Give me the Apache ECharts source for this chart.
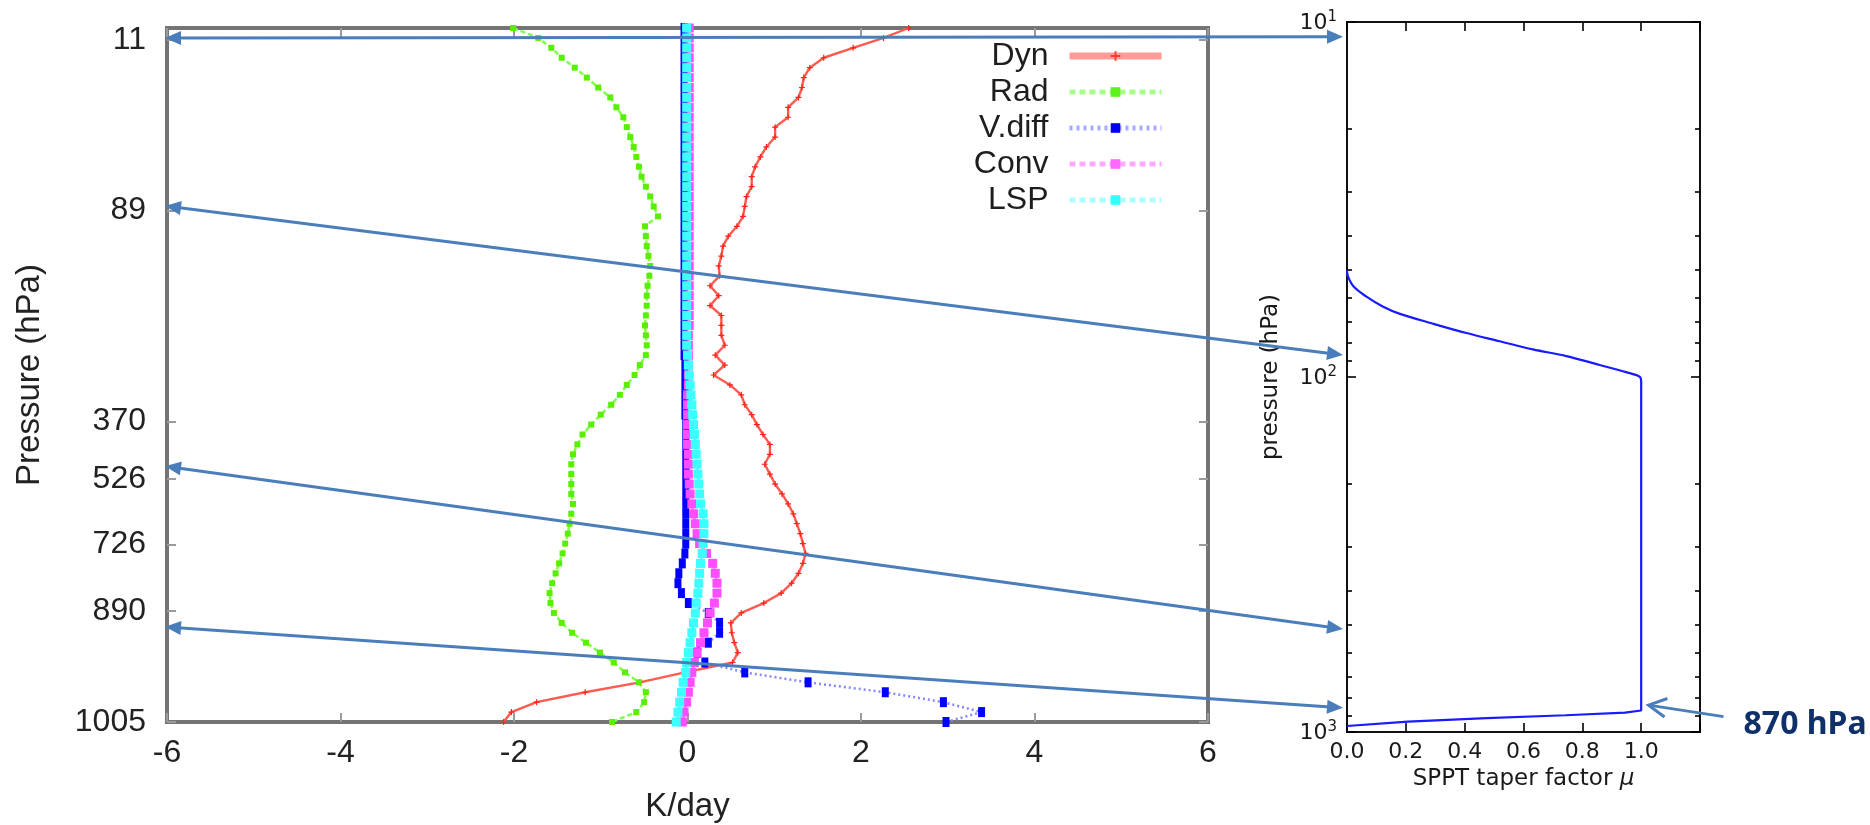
<!DOCTYPE html>
<html>
<head>
<meta charset="utf-8">
<title>Heating-rate profiles and SPPT taper</title>
<script src="https://cdn.jsdelivr.net/npm/echarts@6/dist/echarts.min.js"></script>
<style>
  html, body { margin: 0; padding: 0; background: #ffffff; }
  #wrap { position: relative; width: 1870px; height: 825px; overflow: hidden; }
  #profiles, #taper { position: absolute; left: 0; top: 0; width: 1870px; height: 825px; }
  #profiles { filter: blur(0.5px); }
</style>
</head>
<body>
<div id="wrap">
  <div id="profiles"></div>
  <div id="taper"></div>
</div>
<script>
// ---- Temperature tendencies (K/day) on model levels, level 0 = model top ----
const dyn = [
  2.55, 2.26, 1.91, 1.57, 1.41, 1.34, 1.32, 1.28, 1.16, 1.16,
  1.01, 1.01, 0.91, 0.84, 0.78, 0.74, 0.74, 0.68, 0.66, 0.64,
  0.57, 0.47, 0.41, 0.39, 0.36, 0.37, 0.26, 0.36, 0.26, 0.39,
  0.39, 0.39, 0.43, 0.32, 0.43, 0.30, 0.49, 0.62, 0.66, 0.74,
  0.80, 0.87, 0.95, 0.95, 0.89, 0.95, 1.01, 1.09, 1.16, 1.22,
  1.26, 1.30, 1.33, 1.36, 1.33, 1.28, 1.20, 1.08, 0.88, 0.62,
  0.50, 0.51, 0.54, 0.58, 0.52, -0.03, -0.55, -1.18, -1.74, -2.03,
  -2.12
];
const rad = [
  -2.01, -1.72, -1.57, -1.45, -1.30, -1.16, -1.03, -0.89, -0.82, -0.74,
  -0.70, -0.66, -0.62, -0.59, -0.56, -0.53, -0.48, -0.43, -0.39, -0.34,
  -0.49, -0.48, -0.47, -0.45, -0.43, -0.44, -0.46, -0.47, -0.47, -0.48,
  -0.49, -0.48, -0.47, -0.48, -0.55, -0.61, -0.70, -0.78, -0.88, -1.00,
  -1.11, -1.21, -1.27, -1.32, -1.34, -1.34, -1.34, -1.34, -1.32, -1.34,
  -1.36, -1.38, -1.41, -1.44, -1.48, -1.52, -1.56, -1.59, -1.58, -1.54,
  -1.45, -1.33, -1.17, -1.01, -0.85, -0.72, -0.56, -0.48, -0.50, -0.59,
  -0.87
];
const vdiff = [
  -0.04, -0.04, -0.04, -0.04, -0.04, -0.04, -0.04, -0.04, -0.04, -0.04,
  -0.04, -0.04, -0.04, -0.04, -0.04, -0.04, -0.04, -0.04, -0.04, -0.04,
  -0.04, -0.04, -0.04, -0.04, -0.04, -0.04, -0.04, -0.04, -0.04, -0.04,
  -0.04, -0.04, -0.04, -0.04, -0.03, -0.03, -0.03, -0.03, -0.03, -0.03,
  -0.02, -0.02, -0.02, -0.02, -0.02, -0.02, -0.02, -0.02, -0.02, -0.02,
  -0.02, -0.02, -0.02, -0.03, -0.06, -0.10, -0.11, -0.07, 0.01, 0.24,
  0.37, 0.37, 0.24, 0.11, 0.20, 0.66, 1.39, 2.28, 2.95, 3.39,
  2.98
];
const conv = [
  0.02, 0.02, 0.02, 0.02, 0.02, 0.02, 0.02, 0.02, 0.02, 0.02,
  0.02, 0.02, 0.02, 0.02, 0.02, 0.02, 0.02, 0.02, 0.02, 0.02,
  0.02, 0.02, 0.02, 0.02, 0.02, 0.02, 0.02, 0.02, 0.02, 0.02,
  0.02, 0.01, 0.01, 0.01, 0.01, 0.01, 0.01, 0.00, 0.00, 0.00,
  0.00, 0.00, 0.00, 0.01, 0.01, 0.01, 0.02, 0.03, 0.05, 0.07,
  0.09, 0.11, 0.14, 0.22, 0.29, 0.32, 0.34, 0.34, 0.31, 0.26,
  0.23, 0.19, 0.15, 0.11, 0.08, 0.05, 0.03, 0.01, -0.01, -0.04,
  -0.06
];
const lsp = [
  -0.01, -0.01, -0.01, -0.01, -0.01, -0.01, -0.01, -0.01, -0.01, -0.01,
  -0.01, -0.01, -0.01, -0.01, -0.01, -0.01, -0.01, -0.01, -0.01, -0.01,
  -0.01, -0.01, -0.01, -0.01, -0.01, -0.01, -0.01, -0.01, -0.01, -0.01,
  -0.01, -0.01, -0.01, 0.00, 0.01, 0.02, 0.03, 0.04, 0.05, 0.06,
  0.07, 0.08, 0.09, 0.10, 0.11, 0.12, 0.13, 0.14, 0.15, 0.18,
  0.19, 0.19, 0.18, 0.17, 0.15, 0.14, 0.13, 0.12, 0.10, 0.09,
  0.07, 0.05, 0.03, 0.01, -0.01, -0.02, -0.05, -0.07, -0.09, -0.11,
  -0.13
];

// Level-axis ticks (model-level coordinate) and the pressures they mark (hPa)
const levelTicks = [1.2, 18.4, 39.7, 45.5, 52.1, 58.8, 70];
const levelTickLabels = ['11', '89', '370', '526', '726', '890', '1005'];

// ---- SPPT taper function: pressure (hPa) and taper factor mu ----
// upper transition (stratosphere -> troposphere) ...
const taperUpperPressure = [50, 52, 55.4, 59.3, 63.4, 66.4, 70.8, 75.2, 79.3, 83.6,
  87.3, 92.5, 96.9, 99.8, 102.6];
const taperUpperMu = [0, 0.003, 0.021, 0.065, 0.123, 0.18, 0.293, 0.406, 0.519, 0.632,
  0.746, 0.859, 0.949, 0.995, 1.0];
// ... and the full-perturbation column down through the boundary-layer taper
const taperLowerPressure = [102.6, 870, 882, 897, 914, 935, 962];
const taperLowerMu = [1.0, 1.0, 0.945, 0.743, 0.475, 0.207, 0];
const pressureMinorTicks = [20, 30, 40, 50, 60, 70, 80, 90, 200, 300, 400, 500, 600, 700, 800, 900];

// ---- Connectors: level on the profile axis -> pressure on the taper axis ----
const linkLevel = [1.0, 17.95, 44.2, 60.4];
const linkPressure = [11.0, 86.7, 513, 855];
// Callout for the lower taper knee
const kneeLabel = '870 hPa';
const kneeArrowTip = [1.025, 840];
const kneeArrowTail = [1.28, 905];

const gnuFont = '"Liberation Sans", Arial, sans-serif';
const mplFont = '"DejaVu Sans", sans-serif';
const arrowColor = '#4a7ebb';

const plusSymbol = 'path://M4,0H6V4H10V6H6V10H4V6H0V4H4Z';

function profile(values) {
  return values.map((v, i) => [v, i]);
}
function levelLabel(v) {
  const i = levelTicks.findIndex(t => Math.abs(t - v) < 1e-6);
  return i >= 0 ? levelTickLabels[i] : '';
}
const hiddenLine = { show: false, onZero: false };

// ================= left panel: tendency profiles =================
const profilesChart = echarts.init(document.getElementById('profiles'));
function gnuTick(extra) {
  return Object.assign({ show: true, inside: true, length: 9, lineStyle: { color: '#9a9a9a', width: 2 } }, extra || {});
}
profilesChart.setOption({
  animation: false,
  grid: {
    left: 167, top: 28, width: 1041, height: 694, outerBoundsMode: 'none', containLabel: false,
    show: true, borderColor: '#747474', borderWidth: 4, backgroundColor: 'transparent'
  },
  xAxis: [{
    type: 'value', min: -6, max: 6, interval: 2, position: 'bottom',
    axisLine: hiddenLine, splitLine: { show: false },
    axisTick: gnuTick(),
    axisLabel: { margin: 15, fontSize: 32, lineHeight: 32, fontFamily: gnuFont, color: '#222' },
    name: 'K/day', nameLocation: 'middle', nameGap: 68,
    nameTextStyle: { fontSize: 33, lineHeight: 33, fontFamily: gnuFont, color: '#222' }
  }, {
    type: 'value', min: -6, max: 6, interval: 2, position: 'top',
    axisLine: hiddenLine, splitLine: { show: false },
    axisTick: gnuTick(), axisLabel: { show: false }
  }],
  yAxis: [{
    type: 'value', inverse: true, min: 0, max: 70, position: 'left',
    axisLine: hiddenLine, splitLine: { show: false },
    axisTick: gnuTick({ customValues: levelTicks }),
    axisLabel: {
      customValues: levelTicks, formatter: levelLabel, margin: 21,
      fontSize: 32, fontFamily: gnuFont, color: '#222'
    },
    name: 'Pressure (hPa)', nameLocation: 'middle', nameRotate: 90, nameGap: 121,
    nameTextStyle: { fontSize: 33, lineHeight: 33, fontFamily: gnuFont, color: '#222' }
  }, {
    type: 'value', inverse: true, min: 0, max: 70, position: 'right',
    axisLine: hiddenLine, splitLine: { show: false },
    axisTick: gnuTick({ customValues: levelTicks }),
    axisLabel: { show: false }
  }],
  legend: {
    orient: 'vertical', align: 'right',
    right: 705, top: 40, padding: 0,
    itemWidth: 92, itemHeight: 12, itemGap: 4,
    textStyle: { fontSize: 32, lineHeight: 30, fontFamily: gnuFont, color: '#1e1e1e', padding: [0, 16, 0, 0] },
    data: [
      { name: 'Dyn', lineStyle: { color: '#ff9a96', width: 7, type: 'solid' }, itemStyle: { color: '#ff3b30' } },
      { name: 'Rad', lineStyle: { color: '#a8ff8a', width: 5, type: [6, 4] }, itemStyle: { color: '#5cf21a' } },
      { name: 'V.diff', lineStyle: { color: '#a9a9ff', width: 5, type: [3, 4] }, itemStyle: { color: '#0000f0' } },
      { name: 'Conv', lineStyle: { color: '#ffaaff', width: 5, type: [6, 4] }, itemStyle: { color: '#ff66ff' } },
      { name: 'LSP', lineStyle: { color: '#aaffff', width: 5, type: [6, 4] }, itemStyle: { color: '#33ffff' } }
    ]
  },
  series: [
    {
      name: 'Dyn', type: 'line', data: profile(dyn),
      symbol: plusSymbol, symbolSize: 6,
      lineStyle: { color: '#ff5b50', width: 2.4 }, itemStyle: { color: '#ff2418' }
    },
    {
      name: 'Rad', type: 'line', data: profile(rad),
      symbol: 'rect', symbolSize: 6,
      lineStyle: { color: '#80ff4a', width: 2.5, type: [5, 3] }, itemStyle: { color: '#58f000' }
    },
    {
      name: 'V.diff', type: 'line', data: profile(vdiff),
      symbol: 'rect', symbolSize: [7, 10],
      lineStyle: { color: '#8686ff', width: 2.5, type: [2, 3] }, itemStyle: { color: '#0000ff' }
    },
    {
      name: 'Conv', type: 'line', data: profile(conv),
      symbol: 'rect', symbolSize: 9,
      lineStyle: { color: '#ff80ff', width: 3, type: [5, 3] }, itemStyle: { color: '#ff4dff' }
    },
    {
      name: 'LSP', type: 'line', data: profile(lsp),
      symbol: 'rect', symbolSize: 9,
      lineStyle: { color: '#5cffff', width: 3, type: [5, 3] }, itemStyle: { color: '#3cffff' }
    }
  ]
});

// ================= right panel: SPPT taper =================
const taperChart = echarts.init(document.getElementById('taper'));
function mplTick(extra) {
  return Object.assign({ show: true, inside: true, length: 9, lineStyle: { color: '#000', width: 1.6 } }, extra || {});
}
function logAxis(position, withLabels) {
  return {
    type: 'log', logBase: 10, min: 10, max: 1000, inverse: true, position: position,
    axisLine: hiddenLine, splitLine: { show: false }, minorTick: { show: false },
    axisTick: mplTick(),
    axisLabel: withLabels ? {
      margin: 10, color: '#1a1a1a',
      formatter: v => '{b|10}{s|' + Math.round(Math.log10(v)) + '}',
      rich: {
        b: { fontSize: 22, fontFamily: mplFont, color: '#1a1a1a', verticalAlign: 'bottom' },
        s: { fontSize: 15, fontFamily: mplFont, color: '#1a1a1a', verticalAlign: 'top', padding: [0, 0, 9, 0] }
      }
    } : { show: false }
  };
}
function logMinorAxis(position) {
  return {
    type: 'log', logBase: 10, min: 10, max: 1000, inverse: true, position: position,
    axisLine: hiddenLine, splitLine: { show: false },
    axisTick: mplTick({ length: 5, customValues: pressureMinorTicks }),
    axisLabel: { show: false }
  };
}
const pressureAxis = logAxis('left', true);
pressureAxis.name = 'pressure (hPa)';
pressureAxis.nameLocation = 'middle';
pressureAxis.nameRotate = 90;
pressureAxis.nameGap = 64;
pressureAxis.nameTextStyle = { fontSize: 23, lineHeight: 24, fontFamily: mplFont, color: '#1a1a1a' };

const taperLine = { color: '#1a1aff', width: 2.2 };
taperChart.setOption({
  animation: false,
  grid: {
    left: 1347, top: 22, width: 353, height: 710, outerBoundsMode: 'none', containLabel: false,
    show: true, borderColor: '#111', borderWidth: 2, backgroundColor: 'transparent'
  },
  xAxis: [{
    type: 'value', min: 0, max: 1.2, interval: 0.2, position: 'bottom',
    axisLine: hiddenLine, splitLine: { show: false },
    axisTick: mplTick(),
    axisLabel: {
      margin: 9, fontSize: 22, fontFamily: mplFont, color: '#1a1a1a',
      formatter: v => (v > 1.05 ? '' : v.toFixed(1))
    },
    name: '{t|SPPT taper factor }{m|μ}', nameLocation: 'middle', nameGap: 36,
    nameTextStyle: {
      fontSize: 23, fontFamily: mplFont, color: '#1a1a1a',
      rich: {
        t: { fontSize: 23, fontFamily: mplFont, color: '#1a1a1a' },
        m: { fontSize: 23, fontFamily: mplFont, fontStyle: 'italic', color: '#1a1a1a' }
      }
    }
  }, {
    type: 'value', min: 0, max: 1.2, interval: 0.2, position: 'top',
    axisLine: hiddenLine, splitLine: { show: false },
    axisTick: mplTick(), axisLabel: { show: false }
  }],
  yAxis: [pressureAxis, logAxis('right', false), logMinorAxis('left'), logMinorAxis('right')],
  series: [{
    name: 'taper upper', type: 'line',
    data: taperUpperMu.map((m, i) => [m, taperUpperPressure[i]]),
    showSymbol: false, symbol: 'none', smooth: 0.35,
    lineStyle: taperLine
  }, {
    name: 'taper lower', type: 'line',
    data: taperLowerMu.map((m, i) => [m, taperLowerPressure[i]]),
    showSymbol: false, symbol: 'none',
    lineStyle: taperLine
  }]
});

// ================= connectors between the panels =================
function arrowHead(tip, from, len, half) {
  const dx = tip[0] - from[0], dy = tip[1] - from[1];
  const d = Math.hypot(dx, dy), ux = dx / d, uy = dy / d;
  const bx = tip[0] - ux * len, by = tip[1] - uy * len;
  return {
    type: 'polygon', z: 100,
    shape: { points: [tip, [bx - uy * half, by + ux * half], [bx + uy * half, by - ux * half]] },
    style: { fill: arrowColor }
  };
}
function doubleArrow(p1, p2) {
  const dx = p2[0] - p1[0], dy = p2[1] - p1[1];
  const d = Math.hypot(dx, dy), ux = dx / d, uy = dy / d;
  const len = 16, half = 7;
  return [
    {
      type: 'line', z: 99,
      shape: { x1: p1[0] + ux * len * 0.8, y1: p1[1] + uy * len * 0.8, x2: p2[0] - ux * len * 0.8, y2: p2[1] - uy * len * 0.8 },
      style: { stroke: arrowColor, lineWidth: 3 }
    },
    arrowHead(p1, p2, len, half),
    arrowHead(p2, p1, len, half)
  ];
}
function openArrow(tail, tip) {
  const dx = tip[0] - tail[0], dy = tip[1] - tail[1];
  const ang = Math.atan2(dy, dx);
  const armLen = 20, spread = 28 * Math.PI / 180;
  const a1 = [tip[0] - armLen * Math.cos(ang - spread), tip[1] - armLen * Math.sin(ang - spread)];
  const a2 = [tip[0] - armLen * Math.cos(ang + spread), tip[1] - armLen * Math.sin(ang + spread)];
  return [
    { type: 'line', z: 99, shape: { x1: tail[0], y1: tail[1], x2: tip[0], y2: tip[1] }, style: { stroke: arrowColor, lineWidth: 3 } },
    { type: 'polyline', z: 99, shape: { points: [a1, tip, a2] }, style: { stroke: arrowColor, lineWidth: 3, fill: null } }
  ];
}

const xLeft = profilesChart.convertToPixel({ xAxisIndex: 0 }, -6);
const xRight = taperChart.convertToPixel({ xAxisIndex: 0 }, 0);
let graphics = [];
linkLevel.forEach((lv, i) => {
  const y1 = profilesChart.convertToPixel({ yAxisIndex: 0 }, lv);
  const y2 = taperChart.convertToPixel({ yAxisIndex: 0 }, linkPressure[i]);
  graphics = graphics.concat(doubleArrow([xLeft - 2, y1], [xRight - 4, y2]));
});
const tipPx = taperChart.convertToPixel({ xAxisIndex: 0, yAxisIndex: 0 }, kneeArrowTip);
const tailPx = taperChart.convertToPixel({ xAxisIndex: 0, yAxisIndex: 0 }, kneeArrowTail);
graphics = graphics.concat(openArrow(tailPx, tipPx));
graphics.push({
  type: 'text', z: 100,
  x: tailPx[0] + 20, y: tailPx[1] + 8,
  style: {
    text: kneeLabel, fill: '#10306a',
    font: 'bold 32px "Noto Sans", sans-serif',
    textAlign: 'left', textVerticalAlign: 'middle'
  }
});
taperChart.setOption({ graphic: graphics });
</script>
</body>
</html>
